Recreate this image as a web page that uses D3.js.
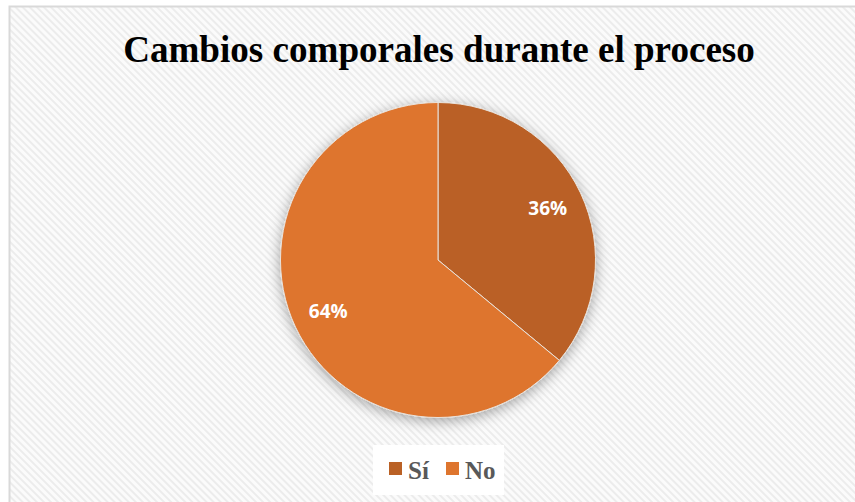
<!DOCTYPE html>
<html>
<head>
<meta charset="utf-8">
<script src="https://cdn.jsdelivr.net/npm/d3@7/dist/d3.min.js"></script>
<style>
  html, body { margin: 0; padding: 0; background: #ffffff; }
  svg { display: block; }
</style>
</head>
<body>
<svg id="chart" width="855" height="502"></svg>
<script>
// Survey answers and their shares (percent)
const categories = ["Sí", "No"];
const values = [36, 64];
const colors = ["#BA6125", "#DE752E"];
const title = "Cambios comporales durante el proceso";

const W = 855, H = 502;
const svg = d3.select("#chart");
const defs = svg.append("defs");

// Light diagonal hatch used for the chart area fill
const pat = defs.append("pattern")
  .attr("id", "hatch")
  .attr("patternUnits", "userSpaceOnUse")
  .attr("width", 5).attr("height", 5)
  .attr("patternTransform", "rotate(-45)");
pat.append("rect").attr("width", 5).attr("height", 5).attr("fill", "#fbfbfb");
pat.append("rect").attr("x", 0).attr("width", 2).attr("height", 5).attr("fill", "#ececec");

// Soft shadow under the pie
const f = defs.append("filter").attr("id", "pieShadow")
  .attr("x", "-20%").attr("y", "-20%").attr("width", "140%").attr("height", "140%");
f.append("feDropShadow")
  .attr("dx", 0).attr("dy", 3)
  .attr("stdDeviation", 7)
  .attr("flood-color", "#000").attr("flood-opacity", 0.35);

// Chart area with border
svg.append("rect")
  .attr("x", 9.5).attr("y", 6.5)
  .attr("width", W + 10).attr("height", H + 10)
  .attr("fill", "url(#hatch)")
  .attr("stroke", "#d9d9d9").attr("stroke-width", 2);

// Title
const t = svg.append("text")
  .attr("x", 439).attr("y", 62)
  .attr("text-anchor", "middle")
  .attr("font-family", "'Liberation Serif', 'Times New Roman', serif")
  .attr("font-weight", "bold")
  .attr("font-size", 37)
  .attr("fill", "#000")
  .text(title);
const tw = t.node().getComputedTextLength();
t.attr("font-size", 37 * 632 / tw);

// Pie
const cx = 438, cy = 260, r = 157.5;
const pie = d3.pie().sort(null).value(d => d.value);
const arcs = pie(categories.map((c, i) => ({ cat: c, value: values[i], color: colors[i] })));
const arc = d3.arc().innerRadius(0).outerRadius(r);
const labelArc = d3.arc().innerRadius(r * 0.77).outerRadius(r * 0.77);

const g = svg.append("g").attr("transform", `translate(${cx},${cy})`);
g.append("g").attr("filter", "url(#pieShadow)")
  .selectAll("path").data(arcs).join("path")
  .attr("d", arc)
  .attr("fill", d => d.data.color)
  .attr("stroke", "#e8e2dc").attr("stroke-width", 1);

g.selectAll("text.lbl").data(arcs).join("text")
  .attr("class", "lbl")
  .attr("transform", d => `translate(${labelArc.centroid(d)})`)
  .attr("text-anchor", "middle")
  .attr("dy", "0.35em")
  .attr("font-family", "'Open Sans', 'Noto Sans', sans-serif")
  .attr("font-weight", "bold")
  .attr("font-size", 19)
  .attr("fill", "#ffffff")
  .text(d => d.data.value + "%");

// Legend
const lg = svg.append("g");
lg.append("rect")
  .attr("x", 373).attr("y", 445).attr("width", 131).attr("height", 50)
  .attr("fill", "#ffffff");
const legX = [389, 446];
const items = lg.selectAll("g.item").data(categories).join("g")
  .attr("class", "item")
  .attr("transform", (d, i) => `translate(${legX[i]},462)`);
items.append("rect")
  .attr("width", 13).attr("height", 13)
  .attr("fill", (d, i) => colors[i]);
items.append("text")
  .attr("x", 19).attr("y", 16.5)
  .attr("font-family", "'Liberation Serif', 'Times New Roman', serif")
  .attr("font-weight", "bold")
  .attr("font-size", 25)
  .attr("fill", "#595959")
  .text(d => d);
</script>
</body>
</html>
